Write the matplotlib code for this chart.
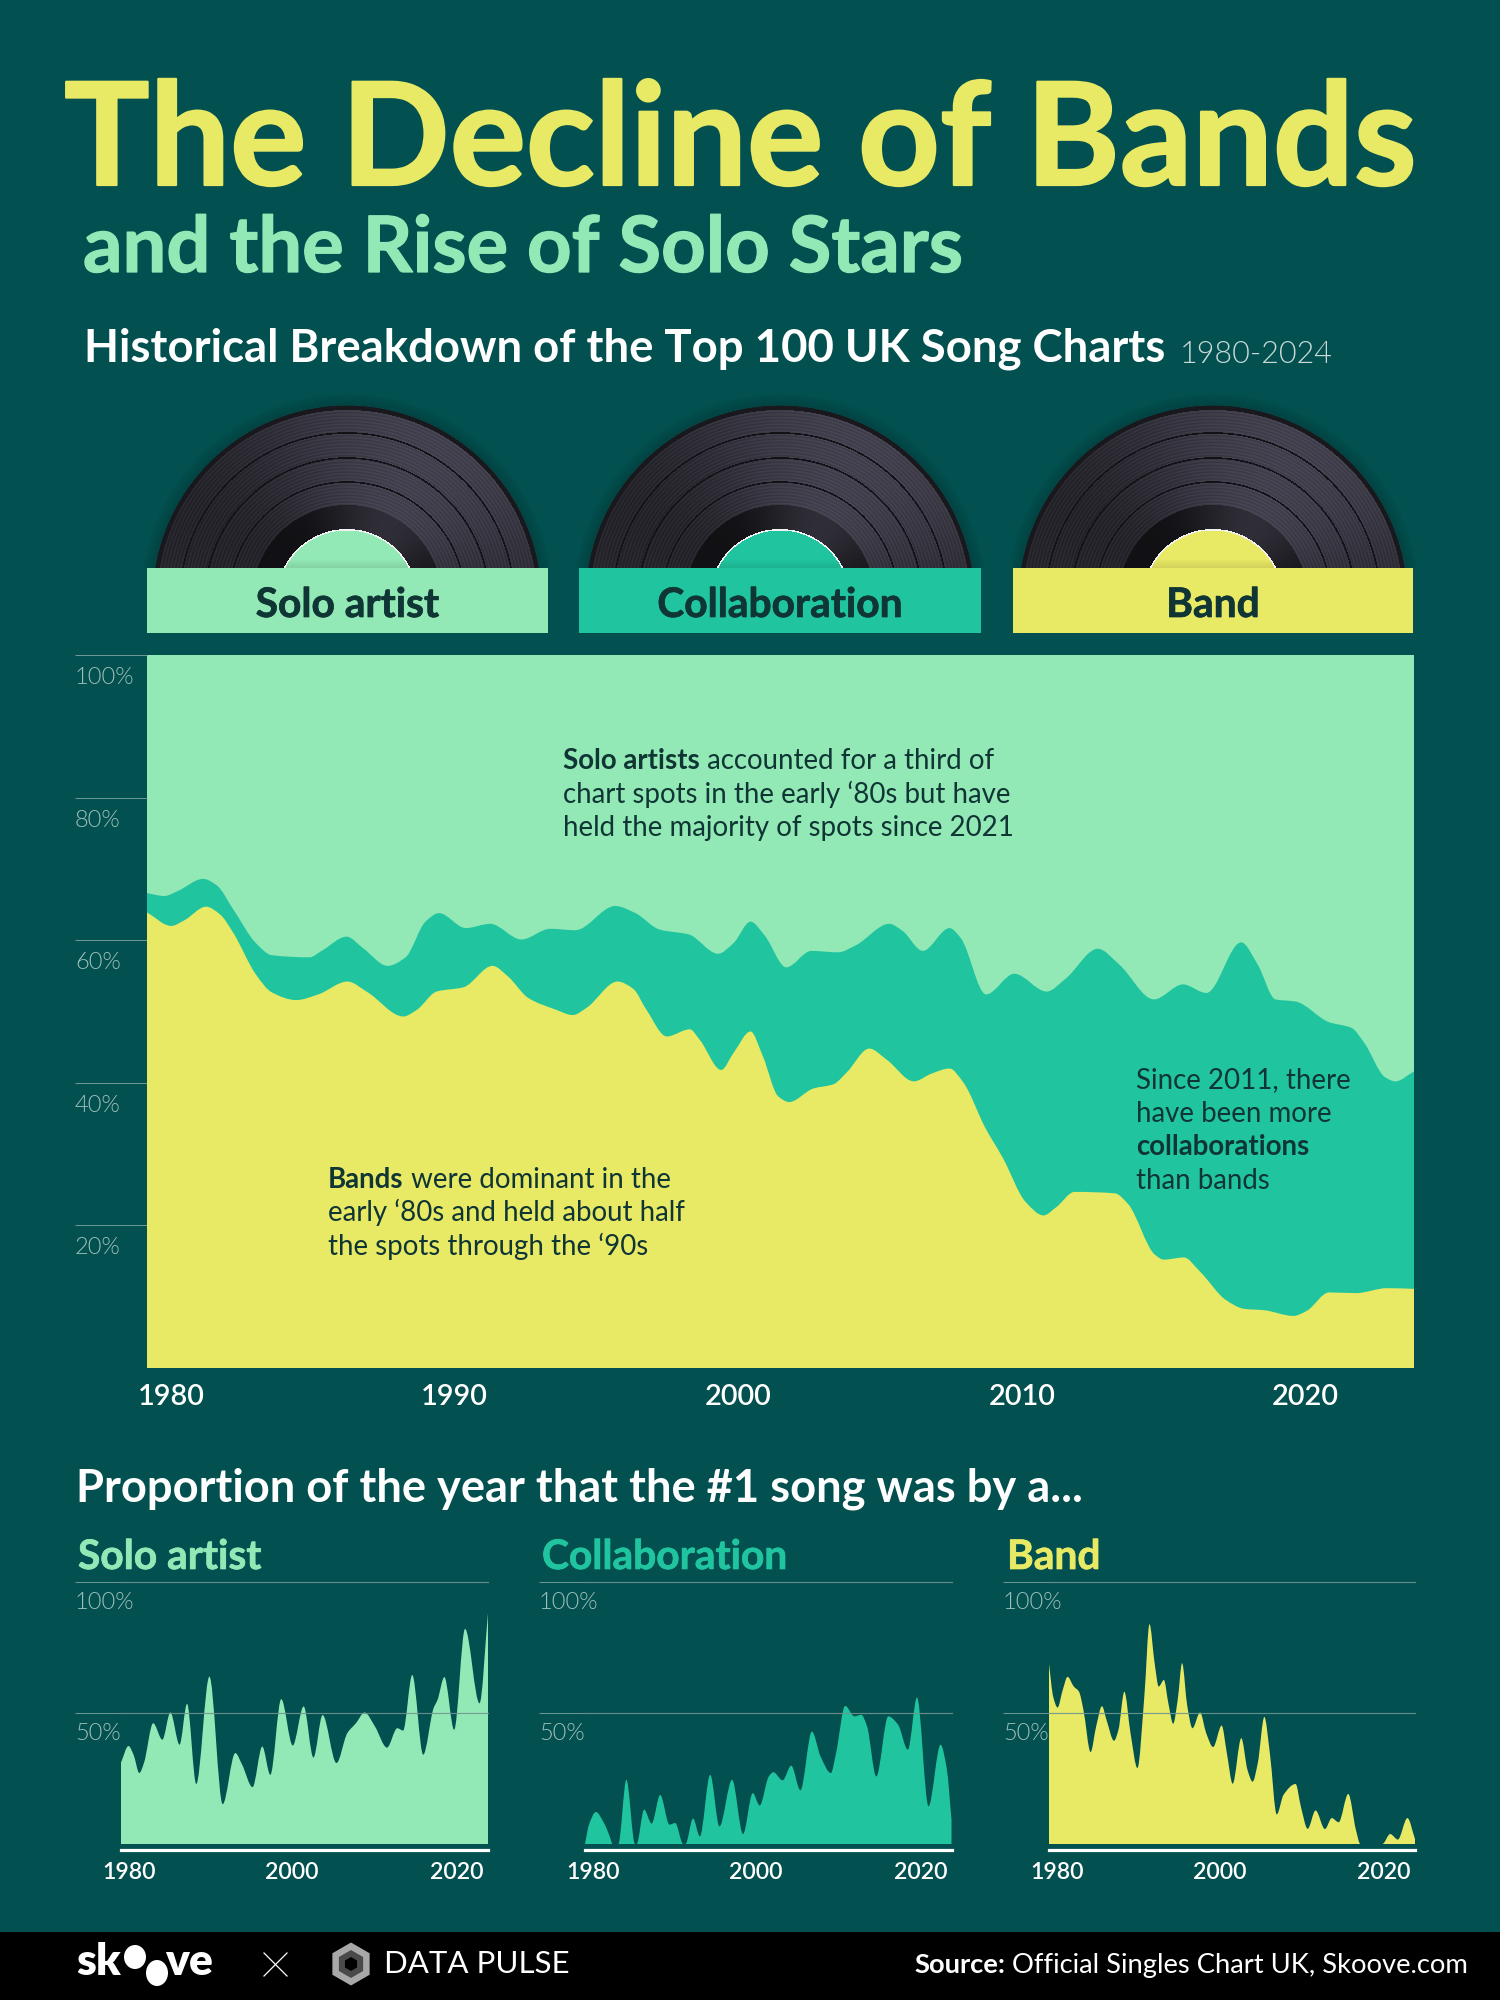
#!/usr/bin/env python3
"""The Decline of Bands: UK Top 100 breakdown poster, 1500x2000."""

import matplotlib

matplotlib.use("Agg")

import matplotlib.patheffects as pe
import matplotlib.pyplot as plt
import numpy as np
from matplotlib.patches import Ellipse, PathPatch, Rectangle, RegularPolygon
from matplotlib.path import Path
from matplotlib.transforms import ScaledTranslation

plt.rcParams["font.family"] = ["Lato", "DejaVu Sans"]

BG = "#02504F"
SOLO = "#93E9B5"
COLLAB = "#20C5A0"
BAND = "#E8E965"
INK = "#0F3535"
TICK_TEXT = "#9DBFBA"
GRID = "#6E9693"
LIGHT = 300
HEAVY = 800

# main chart: upper edge of the yellow area (band share)
BAND_YEARS = [
    1980, 1980.84, 1981.3, 1982.05, 1982.54, 1983, 1983.78, 1984.33, 1985.18, 1985.95,
    1986.96, 1987.66, 1988.9, 1989.36, 1990.06, 1990.99, 1992, 1992.54, 1993.24, 1994.17,
    1994.79, 1995.26, 1996.34, 1996.88, 1997.35, 1998.05, 1998.85, 1999.2, 1999.94, 2000.37,
    2000.96, 2001.38, 2001.92, 2002.3, 2003.14, 2003.84, 2004.31, 2005.08, 2005.7, 2006.63,
    2007.25, 2007.87, 2008.34, 2009.11, 2009.73, 2010.51, 2011.13, 2011.59, 2012.21, 2013.61,
    2014.07, 2015, 2015.31, 2016.01, 2016.55, 2017.48, 2018.1, 2018.8, 2019.81, 2020.27,
    2021.05, 2021.98, 2023.07, 2024,
]
BAND_SHARE = [
    63.9, 62.0, 62.8, 64.7, 63.6, 61.0, 55.2, 52.7, 51.6, 52.4,
    54.2, 52.7, 49.3, 50.2, 52.8, 53.4, 56.4, 54.9, 51.9, 50.3,
    49.5, 50.5, 54.2, 53.2, 50.2, 46.5, 47.5, 46.0, 41.8, 44.2,
    47.2, 43.8, 38.1, 37.3, 39.2, 39.8, 41.5, 44.8, 43.2, 40.2,
    41.3, 42.0, 40.1, 33.7, 29.4, 23.3, 21.4, 22.6, 24.7, 24.5,
    23.0, 15.9, 15.2, 15.5, 13.6, 9.5, 8.3, 8.1, 7.3, 8.0,
    10.6, 10.5, 11.2, 11.1,
]

# main chart: upper edge of the teal area (band + collaboration share)
STACK_YEARS = [
    1980, 1980.6, 1981.07, 1981.95, 1982.42, 1983, 1983.78, 1984.33, 1985.64, 1986.1,
    1986.93, 1987.5, 1988.36, 1988.98, 1989.67, 1990.14, 1991.07, 1991.92, 1993, 1994,
    1994.87, 1996.26, 1996.96, 1997.8, 1998.82, 1999.83, 2000.37, 2000.96, 2001.46, 2002.2,
    2003.07, 2004, 2004.62, 2005.78, 2006.24, 2006.94, 2007.87, 2008.26, 2009.14, 2010.12,
    2011.24, 2011.9, 2013.02, 2013.76, 2014.97, 2015.98, 2016.79, 2018, 2018.57, 2019.19,
    2019.89, 2021.05, 2021.83, 2022.29, 2022.99, 2023.35, 2024,
]
STACK_SHARE = [
    66.6, 66.2, 66.9, 68.6, 67.7, 64.3, 59.6, 57.9, 57.6, 58.6,
    60.5, 58.9, 56.4, 57.6, 62.6, 63.8, 61.7, 62.3, 60.1, 61.6,
    61.4, 64.8, 63.8, 61.5, 60.8, 58.1, 59.6, 62.6, 60.6, 56.2,
    58.5, 58.3, 59.3, 62.3, 61.3, 58.5, 61.7, 60.3, 52.4, 55.3,
    52.8, 54.6, 58.8, 56.6, 51.7, 53.8, 52.6, 59.7, 56.6, 51.7,
    51.4, 48.5, 47.7, 45.5, 40.8, 40.2, 41.6,
]

# small multiples: share of the year at #1
NO1_SOLO_YEARS = [
    1980, 1980.9, 1981.5, 1982.2, 1982.75, 1983.86, 1984.96, 1985.92, 1987.02, 1987.92,
    1989.02, 1990.6, 1992.19, 1993.7, 1994.53, 1995.77, 1996.94, 1997.9, 1999.21, 2000.59,
    2001.9, 2003.07, 2004.17, 2005.83, 2007.13, 2008.17, 2009.2, 2010.44, 2011.89, 2013.13,
    2013.82, 2014.92, 2016.23, 2017.47, 2017.95, 2018.77, 2019.94, 2021.25, 2022.98, 2024,
]
NO1_SOLO = [
    31.1, 37.4, 34.1, 27.1, 30.9, 46.1, 39.8, 50.2, 37.9, 53.5,
    22.9, 63.9, 15.2, 34.7, 30.2, 21.7, 37.2, 26.4, 55.3, 37.6,
    52.5, 33.0, 49.2, 30.9, 42.3, 46.1, 50.2, 44.9, 36.8, 44.2,
    43.3, 64.5, 34.1, 51.8, 55.0, 63.7, 43.6, 82.1, 53.7, 88.1,
]
NO1_COLLAB_YEARS = [
    1980, 1980.48, 1981.31, 1982.28, 1982.97, 1983.31, 1984, 1984.97, 1986, 1986.2,
    1987.1, 1988, 1989.03, 1990.14, 1990.83, 1991.79, 1992.07, 1992.97, 1993.79, 1995.03,
    1996.14, 1997.66, 1998.97, 2000.14, 2000.97, 2002.07, 2002.62, 2003.72, 2004.76, 2005.86,
    2007.24, 2008.28, 2009.52, 2010.14, 2011.24, 2012.34, 2013.17, 2013.86, 2014.97, 2016.41,
    2017.59, 2018.76, 2019.86, 2021.24, 2022.69, 2023.45, 2024,
]
NO1_COLLAB = [
    0, 7.4, 12.2, 8.0, 2.9, 0, 0, 24.5, 0, 0,
    13.1, 7.8, 18.7, 7.4, 8.0, 0, 0, 9.7, 2.9, 26.4,
    6.7, 24.5, 3.8, 19.4, 14.7, 25.8, 27.4, 24.3, 29.9, 20.5,
    42.9, 33.4, 27.1, 34.7, 52.7, 48.7, 49.3, 44.9, 25.8, 48.7,
    45.5, 36.0, 55.9, 14.4, 37.9, 28.3, 9.3,
]
NO1_BAND_YEARS = [
    1980, 1980.5, 1981.03, 1981.65, 1982.23, 1982.98, 1983.6, 1984.14, 1985, 1985.67,
    1986.37, 1986.91, 1987.82, 1988.35, 1989.06, 1989.8, 1990.63, 1991.46, 1992.08, 1992.7,
    1993.19, 1993.81, 1994.35, 1994.93, 1995.47, 1996, 1996.63, 1997.25, 1998.16, 1998.9,
    1999.73, 2000.76, 2001.38, 2002.08, 2003.12, 2003.86, 2004.48, 2005.1, 2005.89, 2006.55,
    2007.38, 2008.2, 2009.65, 2010.27, 2011.1, 2012.05, 2013.17, 2014, 2014.82, 2015.98,
    2016.89, 2017.43, 2018.13, 2020.07, 2021.02, 2021.94, 2023.09, 2024,
]
NO1_BAND = [
    68.7, 56.3, 52.1, 58.8, 63.8, 60.1, 58.2, 51.2, 35.1, 44.9,
    52.6, 47.4, 39.4, 43.6, 58.1, 42.3, 29.0, 56.3, 83.9, 69.0,
    60.1, 62.6, 53.7, 45.9, 55.0, 69.0, 52.5, 44.2, 50.2, 42.3,
    37.0, 45.2, 34.7, 23.0, 40.4, 28.3, 23.8, 30.9, 48.5, 34.7,
    11.3, 18.8, 22.9, 14.4, 5.8, 12.8, 5.7, 9.9, 8.3, 19.1,
    5.5, 0, 0, 0, 3.8, 1.7, 9.9, 1.9,
]

MAIN_TICK_YEARS = [1980.83, 1990.68, 2000.53, 2010.39, 2020.22]
MAIN_TICK_LABELS = ["1980", "1990", "2000", "2010", "2020"]
MAIN_Y_TICKS = [20, 40, 60, 80, 100]
SMALL_TICK_YEARS = [1980.95, 2000.5, 2020.25]
SMALL_TICK_LABELS = ["1980", "2000", "2020"]
SMALL_Y_TICKS = [50, 100]

CATEGORIES = ["Solo artist", "Collaboration", "Band"]
CATEGORY_COLORS = [SOLO, COLLAB, BAND]


def px_axes(fig, left, top, right, bottom, **kw):
    return fig.add_axes(
        [left / 1500, 1 - bottom / 2000, (right - left) / 1500, (bottom - top) / 2000], **kw
    )


def pt(px):
    return px * 72 / 100


def thicken(color, width):
    # Lato Bold is a touch lighter than the poster's heading cut
    return [pe.withStroke(linewidth=width, foreground=color)]


def smooth_area(x, y, color, zorder=2):
    """Closed area under a shape-preserving curve through the read values."""
    x = np.asarray(x, float)
    y = np.asarray(y, float)
    h = np.diff(x)
    d = np.diff(y) / h
    m = np.zeros_like(y)
    m[0], m[-1] = d[0], d[-1]
    for i in range(1, len(x) - 1):
        if d[i - 1] * d[i] > 0:
            w1 = 2 * h[i] + h[i - 1]
            w2 = h[i] + 2 * h[i - 1]
            m[i] = (w1 + w2) / (w1 / d[i - 1] + w2 / d[i])
    verts = [(x[0], 0), (x[0], y[0])]
    codes = [Path.MOVETO, Path.LINETO]
    for i in range(len(x) - 1):
        verts += [
            (x[i] + h[i] / 3, y[i] + m[i] * h[i] / 3),
            (x[i + 1] - h[i] / 3, y[i + 1] - m[i + 1] * h[i] / 3),
            (x[i + 1], y[i + 1]),
        ]
        codes += [Path.CURVE4] * 3
    verts += [(x[-1], 0), (x[0], 0)]
    codes += [Path.LINETO, Path.CLOSEPOLY]
    return PathPatch(Path(verts, codes), facecolor=color, edgecolor="none", zorder=zorder)


def text_runs(fig, ax, x, y, runs, size, color, align="left"):
    """Draw (string, weight) pieces one after the other on one baseline."""
    renderer = fig.canvas.get_renderer()
    items = []
    width = 0
    for s, weight in runs:
        t = ax.text(x, y, s, fontsize=size, fontweight=weight, color=color, va="baseline", ha="left")
        w = t.get_window_extent(renderer).width
        # trailing spaces are not measured reliably, so add one by hand
        if s.endswith(" "):
            w += size * 100 / 72 * 0.19
        items.append((t, w))
        width += w
    cx = x - width if align == "right" else x
    for t, w in items:
        t.set_x(cx)
        cx += w


def draw_record(ax, cx, label_color):
    """Half a vinyl disc cut off by the label box."""
    cy, top, bottom = 600.0, 392, 568
    xs = np.arange(cx - 215, cx + 215) + 0.5
    ys = np.arange(top, bottom) + 0.5
    xx, yy = np.meshgrid(xs, ys)
    r = np.hypot(xx - cx, yy - cy)
    theta = np.arctan2(cy - yy, xx - cx)
    sheen = 0.5 + 0.5 * np.cos(2 * (theta - np.radians(62)))

    grey = 0.15 + 0.12 * sheen + 0.022 * np.sin(r * 2 * np.pi / 3.3)
    ring = 0.07 + 0.12 * sheen ** 2
    grey = np.where(r < 95, ring, grey)
    for groove in (118, 142, 167):
        grey = np.where(np.abs(r - groove) < 0.8, 0.08, grey)
    grey = np.where(r > 190, 0.10, grey)

    rgba = np.zeros(r.shape + (4,))
    rgba[..., 0] = grey * 0.98
    rgba[..., 1] = grey * 0.95
    rgba[..., 2] = grey * 1.14
    rgba[..., 3] = np.clip(195 - r, 0, 1) + np.clip(1 - (r - 195) / 12, 0, 1) * 0.16 * (r >= 195)
    rgba[r >= 195, :3] = 0.0

    label = matplotlib.colors.to_rgb(label_color)
    rim = r < 71
    rgba[rim, :3] = 0.95
    inner = r < 69.5
    shade = 1 - 0.1 * np.clip((yy - (bottom - 9)) / 9, 0, 1)
    for k in range(3):
        rgba[..., k] = np.where(inner, label[k] * shade, rgba[..., k])

    ax.imshow(rgba, extent=(cx - 215, cx + 215, bottom, top), aspect="auto", zorder=1,
              interpolation="bilinear")


def style_small(ax, x, y, color):
    ax.add_patch(smooth_area(x, y, color))
    ax.set_xlim(1980, 2024)
    ax.set_ylim(0, 100)
    ax.set_facecolor("none")
    for side in ("top", "right", "left"):
        ax.spines[side].set_visible(False)
    ax.spines["bottom"].set_position(("outward", pt(6)))
    ax.spines["bottom"].set_color("white")
    ax.spines["bottom"].set_linewidth(pt(3.2))
    ax.set_xticks(SMALL_TICK_YEARS, SMALL_TICK_LABELS)
    ax.tick_params(axis="x", length=0, pad=pt(12), colors="white", labelsize=16.7)
    ax.set_yticks(SMALL_Y_TICKS, [f"{v}%" for v in SMALL_Y_TICKS])
    ax.tick_params(axis="y", length=pt(46), width=pt(1), color=GRID, pad=0,
                   labelcolor=TICK_TEXT, labelsize=17)
    ax.set_axisbelow(False)
    ax.grid(axis="y", color=GRID, linewidth=pt(1.2), alpha=0.9)
    for line in ax.get_ygridlines():
        line.set_clip_on(False)
    shift = ScaledTranslation(0, -10 / 100, ax.figure.dpi_scale_trans)
    for lab in ax.get_yticklabels():
        lab.set_ha("left")
        lab.set_va("top")
        lab.set_fontweight(LIGHT)
        lab.set_transform(lab.get_transform() + shift)
    for lab in ax.get_xticklabels():
        lab.set_fontweight("semibold")


def main():
    fig = plt.figure(figsize=(15, 20), dpi=100, facecolor=BG)

    # main stacked chart
    ax = px_axes(fig, 147, 655, 1414, 1368)
    ax.set_facecolor(SOLO)
    ax.add_patch(smooth_area(STACK_YEARS, STACK_SHARE, COLLAB, zorder=2))
    ax.add_patch(smooth_area(BAND_YEARS, BAND_SHARE, BAND, zorder=3))
    ax.set_xlim(1980, 2024)
    ax.set_ylim(0, 100)
    for spine in ax.spines.values():
        spine.set_visible(False)
    ax.set_xticks(MAIN_TICK_YEARS, MAIN_TICK_LABELS)
    ax.tick_params(axis="x", length=0, pad=pt(16), colors="white", labelsize=20.8)
    ax.set_yticks(MAIN_Y_TICKS, [f"{v}%" for v in MAIN_Y_TICKS])
    ax.tick_params(axis="y", length=pt(72), width=pt(1), color=GRID, pad=0,
                   labelcolor=TICK_TEXT, labelsize=17)
    shift = ScaledTranslation(0, -12 / 100, fig.dpi_scale_trans)
    for lab in ax.get_yticklabels():
        lab.set_ha("left")
        lab.set_va("top")
        lab.set_fontweight(LIGHT)
        lab.set_transform(lab.get_transform() + shift)
    for lab in ax.get_xticklabels():
        lab.set_fontweight("semibold")

    # small multiples
    small_boxes = [(121, 488), (585, 951.5), (1049, 1415)]
    small_data = [
        (NO1_SOLO_YEARS, NO1_SOLO),
        (NO1_COLLAB_YEARS, NO1_COLLAB),
        (NO1_BAND_YEARS, NO1_BAND),
    ]
    for (left, right), (x, y), color in zip(small_boxes, small_data, CATEGORY_COLORS):
        style_small(px_axes(fig, left, 1582, right, 1844), x, y, color)

    # page layer in pixel coordinates for titles, records, notes and footer
    page = px_axes(fig, 0, 0, 1500, 2000)
    page.patch.set_alpha(0)
    page.set_axis_off()
    page.set_zorder(5)

    page.text(64, 185, "The Decline of Bands", fontsize=102.8, fontweight="bold", color=BAND,
              va="baseline", path_effects=thicken(BAND, 1.6))
    page.text(83, 272, "and the Rise of Solo Stars", fontsize=56, fontweight="bold", color=SOLO,
              va="baseline", path_effects=thicken(SOLO, 0.9))
    page.text(84, 362, "Historical Breakdown of the Top 100 UK Song Charts", fontsize=32.8,
              fontweight="bold", color="white", va="baseline")
    page.text(1180, 363, "1980-2024", fontsize=22, fontweight=LIGHT, color="#C9DAD7", va="baseline")

    centers = [347, 780, 1213]
    boxes = [(147, 548), (579, 981), (1013, 1413)]
    for cx, (left, right), name, color in zip(centers, boxes, CATEGORIES, CATEGORY_COLORS):
        draw_record(page, cx, color)
        page.add_patch(Rectangle((left, 568), right - left, 65, facecolor=color, edgecolor="none", zorder=3))
        page.text((left + right) / 2, 617, name, fontsize=29.3, fontweight="bold", color=INK,
                  ha="center", va="baseline", zorder=4, path_effects=thicken(INK, 0.5))

    text_runs(fig, page, 563, 769, [("Solo artists", "bold"), (" accounted for a third of", "normal")], 19.9, INK)
    page.text(563, 803, "chart spots in the early ‘80s but have", fontsize=19.9, color=INK, va="baseline")
    page.text(563, 836, "held the majority of spots since 2021", fontsize=19.9, color=INK, va="baseline")

    text_runs(fig, page, 328, 1188, [("Bands", "bold"), (" were dominant in the", "normal")], 19.9, INK)
    page.text(328, 1221, "early ‘80s and held about half", fontsize=19.9, color=INK, va="baseline")
    page.text(328, 1255, "the spots through the ‘90s", fontsize=19.9, color=INK, va="baseline")

    page.text(1136, 1088, "Since 2011, there", fontsize=19.9, color=INK, va="baseline")
    page.text(1136, 1122, "have been more", fontsize=19.9, color=INK, va="baseline")
    page.text(1136, 1155, "collaborations", fontsize=19.9, fontweight="bold", color=INK, va="baseline")
    page.text(1136, 1189, "than bands", fontsize=19.9, color=INK, va="baseline")

    page.text(76, 1502, "Proportion of the year that the #1 song was by a...", fontsize=32.6,
              fontweight="bold", color="white", va="baseline")
    for x, name, color in zip((78, 542, 1007), CATEGORIES, CATEGORY_COLORS):
        page.text(x, 1569, name, fontsize=29.3, fontweight="bold", color=color, va="baseline",
                  path_effects=thicken(color, 0.5))

    # footer
    page.add_patch(Rectangle((0, 1932), 1500, 68, facecolor="black", edgecolor="none", zorder=1))
    page.text(76, 1975, "sk", fontsize=32, fontweight=HEAVY, color="white", va="baseline", zorder=2)
    page.add_patch(Ellipse((135, 1957), 22, 24, facecolor="white", edgecolor="none", zorder=2))
    page.add_patch(Ellipse((157, 1973), 22, 26, facecolor="white", edgecolor="none", zorder=2))
    page.text(165, 1975, "ve", fontsize=32, fontweight=HEAVY, color="white", va="baseline", zorder=2)
    page.plot([264, 287], [1953, 1976], color="white", lw=0.9, zorder=2)
    page.plot([264, 287], [1976, 1953], color="white", lw=0.9, zorder=2)
    page.add_patch(RegularPolygon((351, 1964), 6, radius=21.5, facecolor="#A8A8A8", edgecolor="none", zorder=2))
    page.add_patch(RegularPolygon((351, 1964), 6, radius=14, facecolor="#4A4A4A", edgecolor="none", zorder=2))
    page.add_patch(RegularPolygon((351, 1964), 6, radius=7, facecolor="black", edgecolor="none", zorder=2))
    page.text(384, 1973, "DATA PULSE", fontsize=22.5, color="white", va="baseline", zorder=2)
    text_runs(fig, page, 1468, 1973, [("Source:", "bold"), (" Official Singles Chart UK, Skoove.com", "normal")],
              19.7, "white", align="right")

    page.set_xlim(0, 1500)
    page.set_ylim(2000, 0)

    fig.savefig("out.png", dpi=100, facecolor=BG)
    plt.close(fig)


if __name__ == "__main__":
    main()
